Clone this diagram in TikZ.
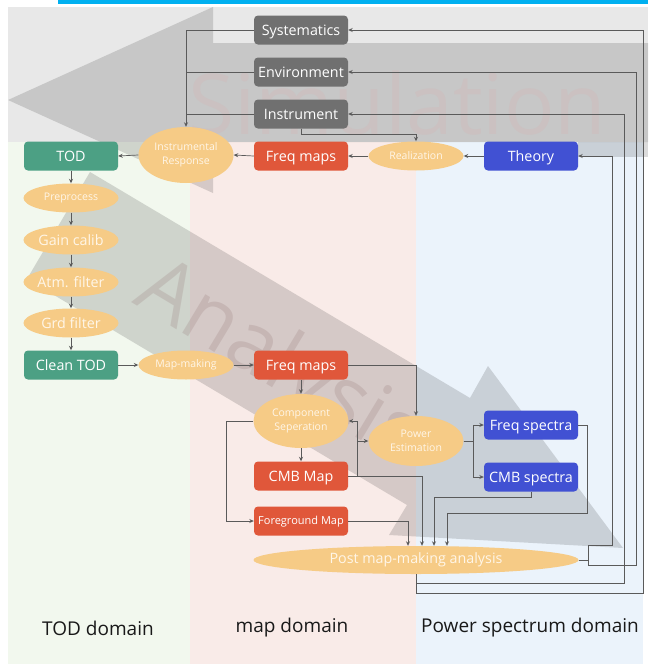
\documentclass[tikz,border=0pt]{standalone}
\usepackage{fontspec}
\setmainfont{Open Sans}
\usetikzlibrary{shapes.geometric,arrows.meta}
\definecolor{topbar}{HTML}{00B0F0}
\definecolor{topgray}{HTML}{E8E8E8}
\definecolor{colgreen}{HTML}{F2F8EE}
\definecolor{colpink}{HTML}{F9EBE8}
\definecolor{colblue}{HTML}{EBF3FB}
\definecolor{boxgray}{HTML}{707070}
\definecolor{boxgreen}{HTML}{4CA084}
\definecolor{boxred}{HTML}{E0573A}
\definecolor{boxblue}{HTML}{4151D3}
\definecolor{ellfill}{HTML}{F6CB86}
\definecolor{elltext}{HTML}{FFF6E8}
\definecolor{linec}{HTML}{5A5A5A}
\definecolor{simtext}{HTML}{E0A4A4}
\definecolor{anatext}{HTML}{8A6A6A}
\begin{document}
\begin{tikzpicture}[x=1pt,y=-1pt,
  conn/.style={draw=linec, line width=0.7pt},
  arr/.style={conn, -{Stealth[length=4.5pt,width=4pt]}},
  boxbase/.style={rectangle, rounded corners=4pt, minimum width=94pt, minimum height=29pt, inner sep=0pt, text=white, text height=12pt, text depth=2pt, font=\fontsize{14.3}{16}\selectfont},
  graybox/.style={boxbase, fill=boxgray},
  greenbox/.style={boxbase, fill=boxgreen},
  redbox/.style={boxbase, fill=boxred},
  bluebox/.style={boxbase, fill=boxblue},
  ell/.style={ellipse, fill=ellfill, text=elltext, minimum width=95pt, minimum height=29pt, inner sep=0pt, font=\fontsize{10.5}{14.5}\selectfont, align=center},
  bigell/.style={ell, font=\fontsize{14.3}{16}\selectfont},
  domlabel/.style={font=\fontsize{19}{21}\selectfont, text=black!90}
]
\useasboundingbox (0,0) rectangle (648,664);
% backgrounds
\fill[topbar] (58,0) rectangle (648,4);
\fill[topgray] (8,7) rectangle (648,142);
\fill[colgreen] (8,142) rectangle (190,664);
\fill[colpink] (190,142) rectangle (416,664);
\fill[colblue] (416,142) rectangle (643,664);
% big arrows
\fill[black, fill opacity=0.14] (648,43) -- (213,43) -- (213,7) -- (8,100) -- (213,193) -- (213,142) -- (648,142) -- cycle;
\fill[black, fill opacity=0.14] (578,142) rectangle (648,157);
\fill[black, fill opacity=0.14] (90,172) -- (470,398) -- (488,366) -- (623,548) -- (389,535) -- (407,505) -- (27,279) -- cycle;
\node[anchor=base west, text=simtext, text opacity=0.16, font=\fontsize{84}{90}\selectfont, inner sep=0pt] (simlabel) at (188,134) {Simulation};
\node[anchor=base west, rotate=-31, text=anatext, text opacity=0.2, font=\fontsize{84}{90}\selectfont, inner sep=0pt] (analabel) at (131,302) {Analysis};
% nodes
\node[graybox] (sys) at (301,30) {Systematics};
\node[graybox] (env) at (301,72) {Environment};
\node[graybox] (ins) at (301,114) {Instrument};
\node[greenbox] (tod) at (71,156) {TOD};
\node[ell, minimum height=56pt] (ir) at (186,155) {Instrumental\\Response};
\node[redbox] (fm1) at (301,156) {Freq maps};
\node[ell] (real) at (416,156) {Realization};
\node[bluebox] (theory) at (531,156) {Theory};
\node[ell] (pre) at (71,198) {Preprocess};
\node[bigell] (gain) at (71,240) {Gain calib};
\node[bigell] (atm) at (71,282) {Atm. filter};
\node[bigell] (grd) at (71,323) {Grd filter};
\node[greenbox] (ctod) at (71,365) {Clean TOD};
\node[ell] (mm) at (186,365) {Map-making};
\node[redbox] (fm2) at (301,365) {Freq maps};
\node[ell, minimum height=54pt] (cs) at (301,421) {Component\\Seperation};
\node[redbox] (cmb) at (301,476) {CMB Map};
\node[redbox, font=\fontsize{11}{13}\selectfont, text height=9pt, text depth=2pt] (fg) at (301,521) {Foreground Map};
\node[ell, minimum height=50pt] (pe) at (416,441) {Power\\Estimation};
\node[bluebox] (fs) at (531,425) {Freq spectra};
\node[bluebox] (cspec) at (531,477) {CMB spectra};
\node[bigell, minimum width=325pt, minimum height=28pt] (post) at (416,560) {Post map-making analysis};
\node[domlabel] (d1) at (98,628) {TOD domain};
\node[domlabel] (d2) at (292,628) {map domain};
\node[domlabel] (d3) at (530,628) {Power spectrum domain};
% connectors: simulation chain
\draw[arr] (sys.west) -| (ir.north);
\draw[conn] (env.west) -- (env.west -| ir.north);
\draw[conn] (ins.west) -- (ins.west -| ir.north);
\draw[arr] (ins.south) -- ++(0,6) -| (real.north);
\draw[arr] (theory.west) -- (real.east);
\draw[arr] (real.west) -- (fm1.east);
\draw[arr] (fm1.west) -- (ir.east);
\draw[arr] (ir.west) -- (tod.east);
% TOD chain
\draw[arr] (tod.south) -- (pre.north);
\draw[arr] (pre.south) -- (gain.north);
\draw[arr] (gain.south) -- (atm.north);
\draw[arr] (atm.south) -- (grd.north);
\draw[arr] (grd.south) -- (ctod.north);
\draw[arr] (ctod.east) -- (mm.west);
\draw[arr] (mm.east) -- (fm2.west);
% map domain
\draw[arr] (fm2.south) -- (cs.north);
\draw[arr] (fm2.east) -| (pe.north);
\draw[arr] (cs.south) -- (cmb.north);
\draw[arr] (cs.west) -- ++(-27,0) |- (fg.west);
\draw[arr] (cmb.east) -- ++(9,0) |- (pe.west);
\draw[arr] (cmb.east) -- ++(9,0) |- (cs.east);
\draw[arr] (pe.east) -- ++(10,0) |- (fs.west);
\draw[arr] (pe.east) -- ++(10,0) |- (cspec.west);
% into post analysis
\draw[arr] (fg.east) -| ([xshift=-8pt]post.north);
\draw[arr] (cmb.east) -| ([xshift=6pt]post.north);
\draw[arr] (cspec.south) -- ++(0,6) -| ([xshift=18pt]post.north);
\draw[arr] (fs.east) -- ++(9,0) -- ++(0,88) -| ([xshift=31pt]post.north);
% feedback
\draw[arr] (post.east) -- ++(10,0) -- ++(0,-15) -- ++(24,0) |- (theory.east);
\draw[arr] (post.east) -- ++(10,0) -- ++(0,5) -- ++(48,0) |- (env.east);
\draw[arr] (post.south) -- ++(0,9) -- ++(208,0) |- (ins.east);
\draw[arr] (post.south) -- ++(0,19) -- ++(227,0) |- (sys.east);
\end{tikzpicture}
\end{document}
